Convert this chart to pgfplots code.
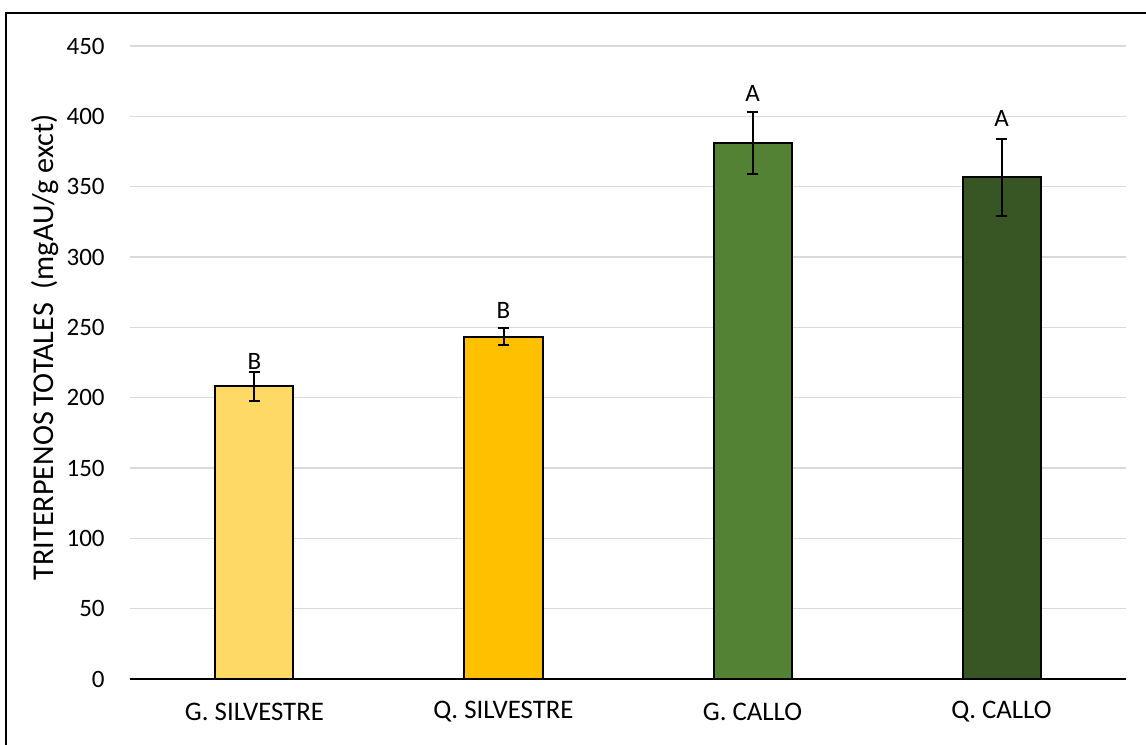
\documentclass[border=0pt]{standalone}
\usepackage{pgfplots}
\pgfplotsset{compat=1.18}
\usepackage{fontspec}
\setmainfont{Carlito}
\definecolor{gridc}{HTML}{D9D9D9}
\definecolor{c1}{HTML}{FFD966}
\definecolor{c2}{HTML}{FFC000}
\definecolor{c3}{HTML}{548235}
\definecolor{c4}{HTML}{375623}
\begin{document}
\begin{tikzpicture}
\begin{axis}[
  scale only axis,
  width=498pt, height=316.5pt,
  xmin=-0.5, xmax=3.5,
  ymin=0, ymax=450,
  ytick={0,50,...,450},
  xtick={0,1,2,3},
  xticklabels={G. SILVESTRE, Q. SILVESTRE, G. CALLO, Q. CALLO},
  axis x line*=bottom, axis y line*=left,
  y axis line style={draw=none},
  x axis line style={black, line width=0.75pt},
  major tick length=0pt,
  ymajorgrids,
  grid style={draw=gridc, line width=0.75pt},
  /pgf/number format/assume math mode=true,
  tick label style={font=\fontsize{12.5}{15}\selectfont},
  yticklabel style={inner sep=0pt, anchor=east, xshift=-12.5pt},
  xticklabel style={font=\fontsize{13.4}{16}\selectfont, inner sep=0pt, anchor=center, yshift=-16.3pt},
  ylabel={TRITERPENOS\,TOTALES\ \ (mgAU/g exct)},
  ylabel style={font=\fontsize{15.1}{18}\selectfont, at={([xshift=-42.5pt]axis description cs:0,0.524)}, anchor=center},
  ybar, bar width=39pt, bar shift=0pt,
  every axis plot/.append style={draw=black, line width=1pt},
  error bars/y dir=both, error bars/y explicit,
  error bars/error bar style={line width=1pt, black},
  error bars/error mark options={rotate=90, mark size=2.9pt, line width=1pt, black},
]
\addplot[fill=c1] coordinates {(0,208.0) +- (0,10.4)};
\addplot[fill=c2] coordinates {(1,243.3) +- (0,6.0)};
\addplot[fill=c3] coordinates {(2,381.2) +- (0,22.2)};
\addplot[fill=c4] coordinates {(3,356.6) +- (0,27.6)};
\node[font=\fontsize{12.5}{15}\selectfont] at (axis cs:0,225.6) {B};
\node[font=\fontsize{12.5}{15}\selectfont] at (axis cs:1,261.8) {B};
\node[font=\fontsize{12.5}{15}\selectfont] at (axis cs:2,416.2) {A};
\node[font=\fontsize{12.5}{15}\selectfont] at (axis cs:3,398.4) {A};
\end{axis}
\pgfresetboundingbox
\path[use as bounding box] ([xshift=-65pt,yshift=-33pt]current axis.south west) rectangle ([xshift=10pt,yshift=23pt]current axis.north east);
\draw[line width=1pt] ([xshift=-61.75pt,yshift=-60pt]current axis.south west) -- ([xshift=-61.75pt,yshift=16.5pt]current axis.north west) -- ([xshift=40pt,yshift=16.5pt]current axis.north east);
\end{tikzpicture}
\end{document}
